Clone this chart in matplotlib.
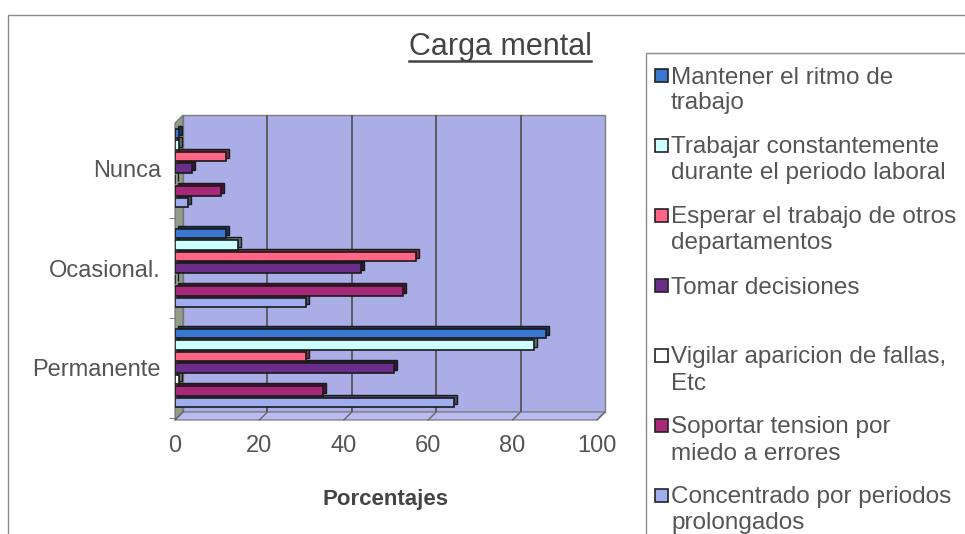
import numpy as np
import matplotlib
matplotlib.use("Agg")
import matplotlib.pyplot as plt
from matplotlib.patches import Rectangle, Polygon
from matplotlib.lines import Line2D
from matplotlib.transforms import ScaledTranslation, IdentityTransform
from matplotlib.colors import to_rgb

# categories, bottom to top
categories = ["Permanente", "Ocasional.", "Nunca"]

series_names = [
    "Mantener el ritmo de\ntrabajo",
    "Trabajar constantemente\ndurante el periodo laboral",
    "Esperar el trabajo de otros\ndepartamentos",
    "Tomar decisiones",
    "Vigilar aparicion de fallas,\nEtc",
    "Soportar tension por\nmiedo a errores",
    "Concentrado por periodos\nprolongados",
]

# values per category (Permanente, Ocasional, Nunca)
mantener = [88, 12, 1]
trabajar = [85, 15, 1]
esperar = [31, 57, 12]
tomar = [52, 44, 4]
vigilar = [1, 0, 0]
soportar = [35, 54, 11]
concentrado = [66, 31, 3]

x_ticks = [0, 20, 40, 60, 80, 100]

series = [mantener, trabajar, esperar, tomar, vigilar, soportar, concentrado]
colors = ["#3A78D2", "#CCFFFF", "#FF6685", "#6A2E8A", "#FFFFFF", "#A8287A", "#A0AEF0"]

plt.rcParams["font.family"] = ["Liberation Sans", "DejaVu Sans"]
text_col = "#555555"

W, H = 965, 534
fig = plt.figure(figsize=(W / 100, H / 100), dpi=100)
fig.patch.set_facecolor("white")

# front plane of the plot, in pixels
left, right, top, bottom = 175, 597, 123, 420
depth = 8
ax = fig.add_axes([left / W, 1 - bottom / H, (right - left) / W, (bottom - top) / H])
ax.set_facecolor("none")
for s in ax.spines.values():
    s.set_visible(False)

dx, dy = depth / (right - left), depth / (bottom - top)
back = ScaledTranslation(depth / 100, depth / 100, fig.dpi_scale_trans)

# walls and floor
ax.add_patch(Rectangle((dx, dy), 1, 1, transform=ax.transAxes, fc="#AAADE6",
                       ec="#808080", lw=1, zorder=0, clip_on=False))
ax.add_patch(Polygon([(0, 0), (dx, dy), (dx, 1 + dy), (0, 1)], transform=ax.transAxes,
                     fc="#939C8A", ec="#707070", lw=0.8, zorder=0.5, clip_on=False))
ax.add_patch(Polygon([(0, 0), (1, 0), (1 + dx, dy), (dx, dy)], transform=ax.transAxes,
                     fc="#B9BCF0", ec="#707070", lw=0.8, zorder=0.5, clip_on=False))

# gridlines on the back wall
ax.vlines(x_ticks[1:-1], 0, 1, transform=ax.get_xaxis_transform() + back,
          colors="#555555", lw=1.3, zorder=1, clip_on=False)
for v in x_ticks:
    ax.annotate("", xy=(v, 0), xycoords=ax.get_xaxis_transform(),
                xytext=(depth, depth), textcoords="offset pixels",
                arrowprops=dict(arrowstyle="-", color="#666666", lw=1, shrinkA=0, shrinkB=0),
                annotation_clip=False)

# bars with a bit of 3D depth
slot, bar_h = 0.115, 0.092
pos = np.arange(len(categories))
shadow = ScaledTranslation(3 / 100, 3 / 100, fig.dpi_scale_trans)
for i, (vals, c) in enumerate(zip(series, colors)):
    ys = pos + (3 - i) * slot
    shade = tuple(np.array(to_rgb(c)) * 0.45)
    ax.barh(ys, vals, height=bar_h, color=shade, edgecolor="#1a1a1a", lw=1,
            transform=ax.transData + shadow, zorder=2, clip_on=False)
    ax.barh(ys, vals, height=bar_h, color=c, edgecolor="#1a1a1a", lw=1.2, zorder=3)

ax.set_xlim(0, 100)
ax.set_ylim(-0.52, 2.45)

ax.set_yticks(pos, categories)
ax.set_yticks([-0.5, 0.5, 1.5], minor=True)
ax.tick_params(axis="y", which="major", length=0, pad=10, labelsize=17, labelcolor=text_col)
ax.tick_params(axis="y", which="minor", length=4, color="#666666")
ax.set_xticks(x_ticks)
ax.tick_params(axis="x", length=0, pad=11, labelsize=17, labelcolor=text_col)

fig.text((left + right) / 2 / W, 1 - 500 / H, "Porcentajes", fontsize=16,
         fontweight="bold", color="#444444", ha="center", va="center")

# title, underlined
title = fig.text(500 / W, 1 - 47 / H, "Carga mental", fontsize=22, color="#444444",
                 ha="center", va="center")
fig.canvas.draw()
bb = title.get_window_extent()
fig.add_artist(Line2D([bb.x0, bb.x1], [bb.y0 + 1, bb.y0 + 1], transform=IdentityTransform(),
                      color="#444444", lw=1.8))

# outer chart border and legend box
fig.add_artist(Rectangle((8 / W, -0.1), 1.2, 1 - 15 / H + 0.1, transform=fig.transFigure,
                         fill=False, ec="#8a8a8a", lw=1))
fig.add_artist(Rectangle((646 / W, -0.1), 1.2, 1 - 53 / H + 0.1, transform=fig.transFigure,
                         fill=False, ec="#8a8a8a", lw=1))

y0, step, line_h = 75, 70, 26
for i, (name, c) in enumerate(zip(series_names, colors)):
    yc = y0 + i * step
    fig.add_artist(Rectangle((655 / W, 1 - (yc + 6.5) / H), 13 / W, 13 / H,
                             transform=fig.transFigure, fc=c, ec="#222222", lw=1.2))
    for k, line in enumerate(name.split("\n")):
        fig.text(671 / W, 1 - (yc + k * line_h + 8.5) / H, line, fontsize=17.5,
                 color=text_col, ha="left", va="baseline")

fig.savefig("out.png", dpi=100)
